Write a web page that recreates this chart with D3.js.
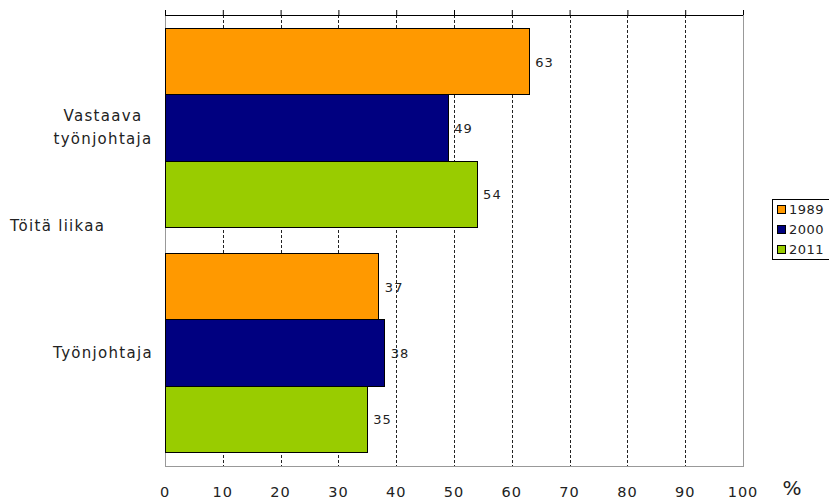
<!DOCTYPE html>
<html>
<head>
<meta charset="utf-8">
<script src="https://cdn.jsdelivr.net/npm/d3@7"></script>
<style>
  body { margin: 0; background: #fff; }
  svg text { font-family: "DejaVu Sans", Verdana, sans-serif; fill: #222; }
</style>
</head>
<body>
<svg id="chart"></svg>
<script>
// dati
var categorie = ["Vastaava työnjohtaja", "Työnjohtaja"];
var anni = ["1989", "2000", "2011"];
var valori1989 = [63, 37];
var valori2000 = [49, 38];
var valori2011 = [54, 35];
var colori = ["#ff9900", "#000080", "#99cc00"];
var tickValori = [0, 10, 20, 30, 40, 50, 60, 70, 80, 90, 100];
var titoloGruppo = "Töitä liikaa";

var serie = [valori1989, valori2000, valori2011];

// area del grafico (niente "top": e' window.top, di sola lettura)
var w = 829, h = 501;
var pLeft = 165, pRight = 743, pTop = 15, pBottom = 466;

var svg = d3.select("#chart").attr("width", w).attr("height", h);

var x = d3.scaleLinear().domain([0, 100]).range([pLeft, pRight]);
var y = d3.scaleBand().domain(categorie).range([pTop, pBottom])
  .paddingInner(0.117).paddingOuter(0.06);
var ySub = d3.scaleBand().domain(anni).range([0, y.bandwidth()]);

// griglia tratteggiata
svg.append("g")
  .selectAll("line")
  .data(tickValori.slice(1, -1))
  .enter().append("line")
  .attr("x1", function(d) { return Math.round(x(d)) + 0.5; })
  .attr("x2", function(d) { return Math.round(x(d)) + 0.5; })
  .attr("y1", pTop).attr("y2", pBottom)
  .attr("stroke", "#222")
  .attr("stroke-dasharray", "3,2");

// bordi grigi (sinistra, destra, sotto)
svg.append("path")
  .attr("d", "M" + pLeft + "," + pTop + "V" + pBottom + "H" + pRight + "V" + pTop)
  .attr("fill", "none")
  .attr("stroke", "#999")
  .attr("shape-rendering", "crispEdges");

// barre
categorie.forEach(function(cat, i) {
  var g = svg.append("g").attr("transform", "translate(0," + y(cat) + ")");
  anni.forEach(function(anno, j) {
    var v = serie[j][i];
    g.append("rect")
      .attr("x", x(0))
      .attr("y", ySub(anno))
      .attr("width", x(v) - x(0))
      .attr("height", ySub.bandwidth())
      .attr("fill", colori[j])
      .attr("stroke", "#000")
      .attr("stroke-width", 1)
      .attr("shape-rendering", "crispEdges");
    g.append("text")
      .attr("x", x(v) + 6)
      .attr("y", ySub(anno) + ySub.bandwidth() / 2 + 5)
      .style("font-size", "13px")
      .style("letter-spacing", "1px")
      .text(v);
  });
});

// asse in alto con tacche verso l'alto
var asseSu = svg.append("g").attr("transform", "translate(0," + pTop + ")")
  .call(d3.axisTop(x).tickValues(tickValori).tickSize(5).tickFormat(""));
asseSu.select(".domain").attr("stroke", "#000").attr("d", "M" + pLeft + ",0.5H" + pRight);
asseSu.selectAll(".tick line").attr("stroke", "#000");

// etichette asse x in basso
svg.append("g")
  .selectAll("text")
  .data(tickValori)
  .enter().append("text")
  .attr("x", function(d) { return x(d); })
  .attr("y", 497)
  .attr("text-anchor", "middle")
  .style("font-size", "14.5px")
  .style("letter-spacing", "1px")
  .text(function(d) { return d; });

svg.append("text")
  .attr("x", 792).attr("y", 495)
  .attr("text-anchor", "middle")
  .style("font-size", "20px")
  .text("%");

// etichette categorie
var etichette = [["Vastaava", "työnjohtaja"], ["Työnjohtaja"]];
categorie.forEach(function(cat, i) {
  var righe = etichette[i];
  var cy = y(cat) + y.bandwidth() / 2;
  righe.forEach(function(r, k) {
    svg.append("text")
      .attr("x", 103)
      .attr("y", cy + 5 + (k - (righe.length - 1) / 2) * 23)
      .attr("text-anchor", "middle")
      .style("font-size", "15px")
      .style("letter-spacing", "1.3px")
      .text(r);
  });
});

svg.append("text")
  .attr("x", 10).attr("y", 231)
  .style("font-size", "15px")
  .style("letter-spacing", "1.3px")
  .text(titoloGruppo);

// legenda
var leg = svg.append("g").attr("transform", "translate(772,199)");
leg.append("rect")
  .attr("width", 60).attr("height", 60)
  .attr("fill", "#fff").attr("stroke", "#000")
  .attr("shape-rendering", "crispEdges");
anni.forEach(function(anno, j) {
  leg.append("rect")
    .attr("x", 5).attr("y", 6 + j * 20)
    .attr("width", 8).attr("height", 8)
    .attr("fill", colori[j]).attr("stroke", "#000")
    .attr("shape-rendering", "crispEdges");
  leg.append("text")
    .attr("x", 17).attr("y", 15 + j * 20)
    .style("font-size", "13px")
    .style("letter-spacing", "0.5px")
    .text(anno);
});
</script>
</body>
</html>
